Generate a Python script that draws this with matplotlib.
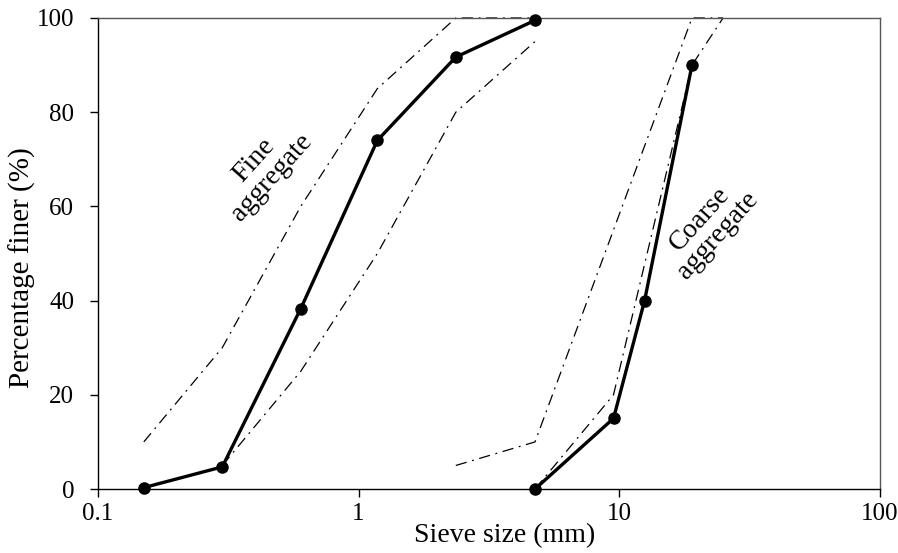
import matplotlib
matplotlib.use("Agg")
import matplotlib.pyplot as plt

plt.rcParams['font.family'] = ['Liberation Serif', 'DejaVu Serif']

# fine aggregate
fine_size = [0.15, 0.3, 0.6, 1.18, 2.36, 4.75]
fine_pass = [0.3, 4.7, 38.3, 74.0, 91.7, 99.5]
fine_up_size = [0.15, 0.3, 0.6, 1.18, 2.36, 4.75]
fine_up = [10, 30, 60, 85, 100, 100]
fine_lo_size = [0.3, 0.6, 1.18, 2.36, 4.75]
fine_lo = [5, 25, 50, 80, 95]

# coarse aggregate
coarse_size = [4.75, 9.5, 12.5, 19.0]
coarse_pass = [0.0, 15.0, 40.0, 90.0]
coarse_up_size = [2.36, 4.75, 9.5, 19.0, 25.0]
coarse_up = [5, 10, 55, 100, 100]
coarse_lo_size = [4.75, 9.5, 19.0, 25.0]
coarse_lo = [0, 20, 90, 100]

fig = plt.figure(figsize=(8.98, 5.53), dpi=100)
ax = fig.add_axes([0.109, 0.1157, 0.871, 0.8518])

dd = (9, 4.5, 1.5, 4.5)
for xs, ys in [(fine_up_size, fine_up), (fine_lo_size, fine_lo),
               (coarse_up_size, coarse_up), (coarse_lo_size, coarse_lo)]:
    ax.plot(xs, ys, color='black', lw=0.9, dashes=dd, clip_on=False, zorder=2)

ax.plot(fine_size, fine_pass, 'k-o', lw=2.4, ms=8, clip_on=False, zorder=3)
ax.plot(coarse_size, coarse_pass, 'k-o', lw=2.4, ms=8, clip_on=False, zorder=3)

ax.set_xscale('log')
ax.set_xlim(0.1, 100)
ax.set_ylim(0, 100)
ax.set_xticks([0.1, 1, 10, 100])
ax.set_xticklabels(['0.1', '1', '10', '100'])
ax.xaxis.set_minor_locator(matplotlib.ticker.NullLocator())
ax.set_yticks([0, 20, 40, 60, 80, 100])
ax.tick_params(axis='both', direction='out', length=6, width=1, labelsize=18, colors='black')
ax.tick_params(axis='x', pad=4)
ax.tick_params(axis='y', pad=11)

for s in ax.spines.values():
    s.set_linewidth(1.0)
    s.set_color('black')
ax.spines['top'].set_color('#555555')
ax.spines['right'].set_color('#555555')

ax.set_xlabel('Sieve size (mm)', fontsize=20)
ax.xaxis.set_label_coords(0.52, -0.072)
ax.set_ylabel('Percentage finer (%)', fontsize=21)
ax.yaxis.set_label_coords(-0.079, 0.47)

ax.text(0.43, 68, 'Fine\naggregate', fontsize=20, rotation=48,
        ha='center', va='center', linespacing=1.0)
ax.text(22.0, 55.5, 'Coarse\naggregate', fontsize=20, rotation=48,
        ha='center', va='center', linespacing=1.0)

fig.savefig('out.png', dpi=100)
